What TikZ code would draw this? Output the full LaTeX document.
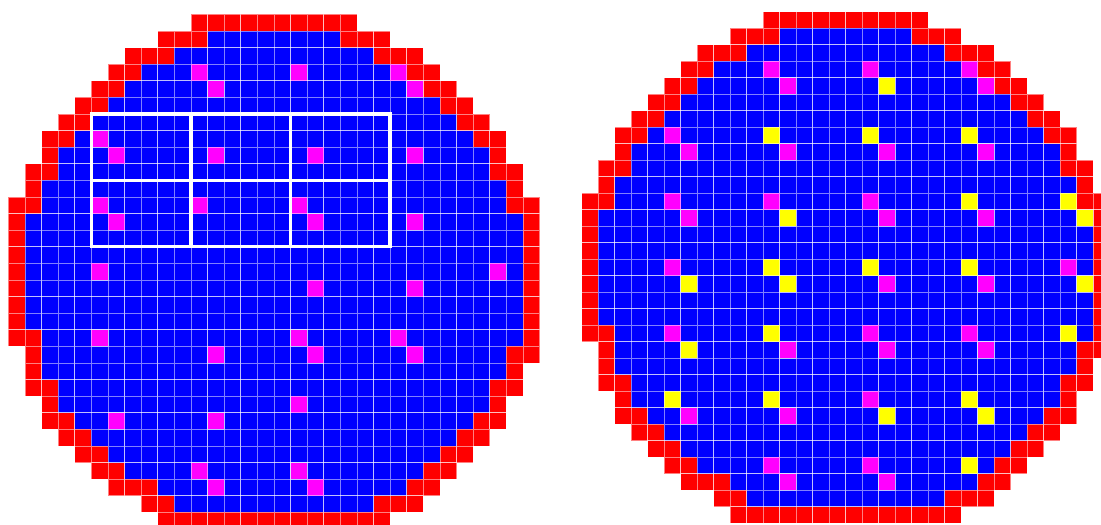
\documentclass[tikz,border=0pt]{standalone}
\definecolor{wblue}{RGB}{0,0,255}
\definecolor{wred}{RGB}{255,0,0}
\definecolor{wmag}{RGB}{255,0,255}
\definecolor{wyel}{RGB}{255,255,0}
\tikzset{
  cellst/.style={draw=white, draw opacity=0.5, line width=0.5pt},
  reticle/.style={draw=white, line width=2.5pt}
}
\newcommand{\wafercells}{%
  \foreach \r/\a/\b/\c/\d in {0/11/99/-1/20, 1/9/12/19/22, 2/7/10/21/24, 3/6/8/23/25,
      4/5/7/24/26, 5/4/6/25/27, 6/3/5/26/28, 7/2/4/27/29, 8/2/3/28/29, 9/1/3/28/30,
      10/1/2/29/30, 11/0/2/29/31, 12/0/1/30/31, 13/0/1/30/31, 14/0/1/30/31,
      15/0/1/30/31, 16/0/1/30/31, 17/0/1/30/31, 18/0/1/30/31, 19/0/2/30/31,
      20/1/2/29/31, 21/1/2/29/30, 22/1/3/28/30, 23/2/3/28/29, 24/2/4/27/29,
      25/3/5/26/28, 26/4/6/25/27, 27/5/7/24/26, 28/6/9/23/25, 29/8/10/21/24,
      30/9/99/-1/22}{%
    \foreach \k in {\a,...,\d}{%
      \ifnum\k<\b\relax \def\cc{wred}\else\ifnum\k>\c\relax \def\cc{wred}\else\def\cc{wblue}\fi\fi
      \path[cellst, fill=\cc] (\k,\r) rectangle ++(1,1);
    }%
  }%
}
\newcommand{\magcells}{%
  \foreach \r/\k in {3/11,4/12,3/17,3/23,4/24,7/5,8/6,8/12,8/18,8/24,
      11/5,12/6,11/11,11/17,12/18,12/24,15/5,15/29,16/18,16/24,
      19/5,20/12,19/17,20/18,19/23,20/24,23/17,24/6,24/12,
      27/11,28/12,27/17,28/18}{%
    \path[cellst, fill=wmag] (\k,\r) rectangle ++(1,1);
  }%
}
\begin{document}
\begin{tikzpicture}[x=0.75pt, y=-0.75pt]
  \useasboundingbox (0,0) rectangle (1101,525);
  % left wafer
  \begin{scope}[shift={(8.3,14.3)}, scale=16.6]
    \wafercells
    \magcells
    \draw[reticle] (5,6) rectangle (23,14);
    \draw[reticle] (11,6) -- (11,14);
    \draw[reticle] (17,6) -- (17,14);
    \draw[reticle] (5,10) -- (23,10);
  \end{scope}
  % right wafer
  \begin{scope}[shift={(581.7,11.7)}, scale=16.5]
    \wafercells
    \magcells
    \foreach \r/\k in {4/18,7/11,7/17,7/23,11/23,11/29,12/12,12/30,
        15/11,15/17,15/23,16/6,16/12,16/30,19/11,19/29,20/6,
        23/5,23/11,23/23,24/18,24/24,27/23}{%
      \path[cellst, fill=wyel] (\k,\r) rectangle ++(1,1);
    }
  \end{scope}
\end{tikzpicture}
\end{document}
